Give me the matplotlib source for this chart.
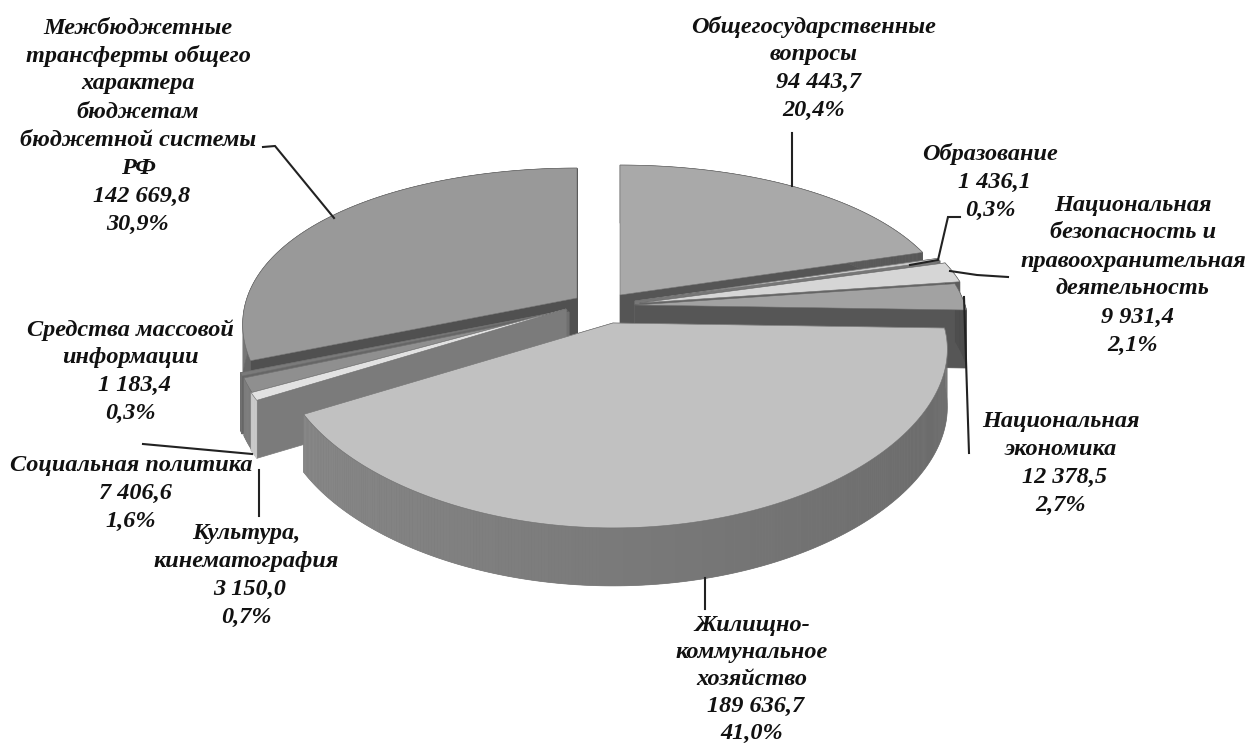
import numpy as np
from matplotlib import pyplot as plt
from matplotlib.colors import to_rgb
from matplotlib.patches import Polygon

# Exploded 3D pie, drawn by hand because matplotlib has no perspective pie.

SHARES = [20.4, 0.3, 2.1, 2.7, 41.0, 0.7, 1.6, 0.3, 30.9]

NAMES = ['Общегосударственные\nвопросы',
         'Образование',
         'Национальная\nбезопасность и\nправоохранительная\nдеятельность',
         'Национальная\nэкономика',
         'Жилищно-\nкоммунальное\nхозяйство',
         'Культура,\nкинематография',
         'Социальная политика',
         'Средства массовой\nинформации',
         'Межбюджетные\nтрансферты общего\nхарактера\nбюджетам\nбюджетной системы\nРФ']

AMOUNTS = ['94 443,7', '1 436,1', '9 931,4', '12 378,5', '189 636,7',
           '3 150,0', '7 406,6', '1 183,4', '142 669,8']
PERCENTS = ['20,4%', '0,3%', '2,1%', '2,7%', '41,0%', '0,7%', '1,6%', '0,3%', '30,9%']

# styling per slice
TOP_COLOURS = ['#a9a9a9', '#c8c8c8', '#d6d6d6', '#a2a2a2', '#c1c1c1',
               '#e2e2e2', '#8f8f8f', '#7a7a7a', '#999999']
FACE_COLOURS = ['#555555', '#777777', '#666666', '#565656', '#8a8a8a',
                '#7b7b7b', '#6f6f6f', '#666666', '#505050']
RIM_COLOURS = ['#666666', '#777777', '#6a6a6a', '#5a5a5a', '#7a7a7a',
               '#bdbdbd', '#707070', '#666666', '#5c5c5c']
SHIFT_X = [15, 30, 35, 30, 8, -39, -36, -38, -28]
SHIFT_Y = [-14, -8, -6, -4, 14, 0, 3, 1, -11]
DRAW_ORDER = [8, 0, 1, 2, 7, 6, 3, 5, 4]

# label centre x, first line y and line pitch for each slice
LABEL_X = [814, 990, 1133, 1061, 752, 246, 131, 130, 138]
LABEL_Y = [27, 154, 205, 422, 625, 533, 466, 330, 28]
LINE_STEP = [27.7, 28, 28, 27.7, 27.2, 28, 27.5, 27.7, 28]

# leader lines
LEADERS = [([792, 792], [133, 186]),
           ([960, 948, 938, 910], [217, 217, 260, 265]),
           ([1008, 977, 950], [277, 275, 271]),
           ([964, 966, 969], [297, 360, 453]),
           ([705, 705], [578, 609]),
           ([259, 259], [470, 516]),
           ([143, 252], [444, 454]),
           ([263, 275, 334], [147, 146, 218])]

CENTRE_X, CENTRE_Y = 605, 309
RADIUS_X, RADIUS_Y = 330, 159
PERSPECTIVE_X = 0.16
PERSPECTIVE_Y = 0.224
THICKNESS = 58
RIM_SHADE = 0.06


def project(angle, apex_x, apex_y):
	# Angle in degrees clockwise from 12 o'clock, on the slice rim
	u = np.sin(np.radians(angle))
	v = np.cos(np.radians(angle))
	x = apex_x + RADIUS_X * u / (1 + PERSPECTIVE_X * v)
	y = apex_y - RADIUS_Y * v / (1 + PERSPECTIVE_Y * v)
	return x, y


def draw_slice(ax, start, end, apex_x, apex_y, top, face, rim):
	angles = np.linspace(start, end, max(int(end - start) * 2, 4))
	xs, ys = project(angles, apex_x, apex_y)
	down = THICKNESS

	# Radial faces
	for x, y in [(xs[0], ys[0]), (xs[-1], ys[-1])]:
		ax.add_patch(Polygon([(apex_x, apex_y), (x, y), (x, y + down), (apex_x, apex_y + down)],
		                     facecolor=face, edgecolor=face, lw=0.5))

	# Rim: base shape first so the strip seams don't show white
	rim_pts = list(zip(xs, ys)) + list(zip(xs[::-1], ys[::-1] + down))
	ax.add_patch(Polygon(rim_pts, facecolor=rim, edgecolor=rim, lw=0.5))

	# Then strips, lighter towards the left
	rim_rgb = np.array(to_rgb(rim))
	for k in range(len(angles) - 1):
		shade = -RIM_SHADE * np.sin(np.radians(angles[k]))
		colour = tuple(np.clip(rim_rgb + shade, 0, 1))
		ax.add_patch(Polygon([(xs[k], ys[k]), (xs[k + 1], ys[k + 1]),
		                      (xs[k + 1], ys[k + 1] + down), (xs[k], ys[k] + down)],
		                     facecolor=colour, edgecolor='none'))

	# Top surface
	top_pts = [(apex_x, apex_y)] + list(zip(xs, ys))
	ax.add_patch(Polygon(top_pts, facecolor=top, edgecolor='#6e6e6e', lw=0.4))


fig = plt.figure(figsize=(12.48, 7.45), dpi=100)
ax = fig.add_axes([0, 0, 1, 1])
ax.set_xlim(0, 1248)
ax.set_ylim(745, 0)
ax.axis('off')

edges = np.cumsum([0] + SHARES) / sum(SHARES) * 360

for i in DRAW_ORDER:
	draw_slice(ax, edges[i], edges[i + 1], CENTRE_X + SHIFT_X[i], CENTRE_Y + SHIFT_Y[i],
	           TOP_COLOURS[i], FACE_COLOURS[i], RIM_COLOURS[i])

for xs, ys in LEADERS:
	ax.plot(xs, ys, color='#222222', lw=1.5, solid_joinstyle='miter')

for i in range(len(SHARES)):
	name_lines = NAMES[i].split('\n')
	lines = name_lines + [AMOUNTS[i], PERCENTS[i]]
	for n, line in enumerate(lines):
		x = LABEL_X[i]
		# Amounts sit slightly right of the centre line
		if n == len(name_lines):
			x += 4
		ax.text(x, LABEL_Y[i] + n * LINE_STEP[i], line, ha='center', va='center',
		        family='Liberation Serif', style='italic', weight='bold',
		        fontsize=17.5, color='#111111')

fig.savefig('out.png', dpi=100, facecolor='white')
